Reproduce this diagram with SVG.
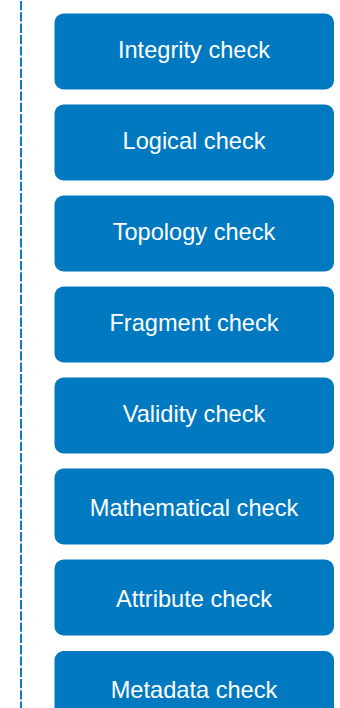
<svg xmlns="http://www.w3.org/2000/svg" width="340" height="708" viewBox="0 0 340 708">
<style>
.box{fill:#0079C1;}
.lbl{fill:#ffffff;font-family:"Liberation Sans",Arial,sans-serif;font-size:23.6px;text-anchor:middle;}
.conn{stroke:#0A7DC6;stroke-width:2;stroke-dasharray:9.3 2;fill:none;}
</style>
<rect width="340" height="708" fill="#ffffff"/>
<g id="connectors">
<line class="conn" x1="21" y1="1" x2="21" y2="708"/>
</g>
<g id="n1"><rect class="box" x="54.5" y="13.5" width="279.5" height="76" rx="9"/><text class="lbl" x="194" y="57.5">Integrity check</text></g>
<g id="n2"><rect class="box" x="54.5" y="104.5" width="279.5" height="76" rx="9"/><text class="lbl" x="194" y="148.5">Logical check</text></g>
<g id="n3"><rect class="box" x="54.5" y="195.5" width="279.5" height="76" rx="9"/><text class="lbl" x="194" y="239.5">Topology check</text></g>
<g id="n4"><rect class="box" x="54.5" y="286.5" width="279.5" height="76" rx="9"/><text class="lbl" x="194" y="330.5">Fragment check</text></g>
<g id="n5"><rect class="box" x="54.5" y="377.5" width="279.5" height="76" rx="9"/><text class="lbl" x="194" y="421.5">Validity check</text></g>
<g id="n6"><rect class="box" x="54.5" y="468.5" width="279.5" height="76" rx="9"/><text class="lbl" x="194" y="515.5">Mathematical check</text></g>
<g id="n7"><rect class="box" x="54.5" y="559.5" width="279.5" height="76" rx="9"/><text class="lbl" x="194" y="606.5">Attribute check</text></g>
<g id="n8"><rect class="box" x="54.5" y="651" width="279.5" height="76" rx="9"/><text class="lbl" x="194" y="697.5">Metadata check</text></g>
</svg>
